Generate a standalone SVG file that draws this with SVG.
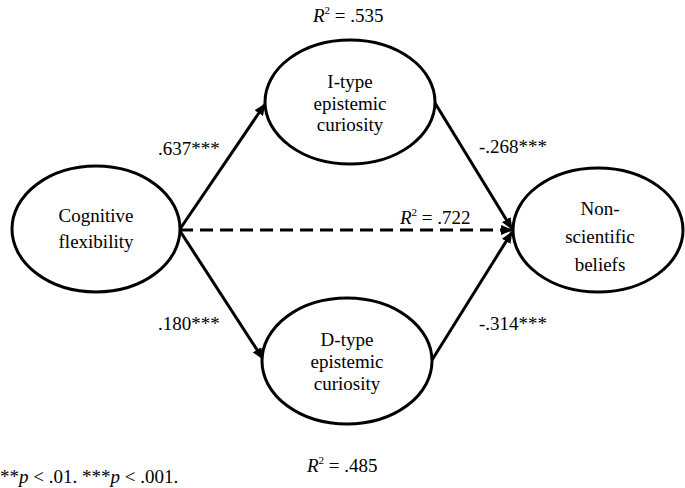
<svg xmlns="http://www.w3.org/2000/svg" width="685" height="488" viewBox="0 0 685 488">
<style>
text{font-family:"Liberation Serif",Tinos,"Times New Roman",serif;font-size:19px;fill:#000}
.c{text-anchor:middle}
.i{font-style:italic}
.node ellipse{fill:#fff;stroke:#000;stroke-width:3}
.ln{stroke:#000;stroke-width:3;fill:none}
.dash{stroke-dasharray:13 7}
</style>
<defs>
<marker id="ah" markerUnits="userSpaceOnUse" markerWidth="12" markerHeight="10" refX="11" refY="5" orient="auto">
<path d="M0,0 L12,5 L0,10 Z" fill="#000"/>
</marker>
</defs>
<g id="connectors">
<line class="ln" x1="180" y1="229" x2="265" y2="104" marker-end="url(#ah)"/>
<line class="ln" x1="180" y1="231" x2="263" y2="359" marker-end="url(#ah)"/>
<line class="ln" x1="435" y1="103" x2="512" y2="229" marker-end="url(#ah)"/>
<line class="ln" x1="432" y1="360" x2="512" y2="232" marker-end="url(#ah)"/>
<line class="ln dash" x1="180" y1="230" x2="512" y2="230" marker-end="url(#ah)"/>
</g>
<g id="cognitive" class="node" font-family="Liberation Serif, serif">
<ellipse cx="96" cy="229" rx="84" ry="63"/>
<text class="c" x="96" y="222">Cognitive</text>
<text class="c" x="96" y="248">flexibility</text>
</g>
<g id="itype" class="node">
<ellipse cx="350" cy="102" rx="85" ry="62"/>
<text class="c" x="350" y="88">I-type</text>
<text class="c" x="350" y="110">epistemic</text>
<text class="c" x="350" y="131">curiosity</text>
</g>
<g id="dtype" class="node">
<ellipse cx="347" cy="361" rx="85" ry="63"/>
<text class="c" x="347" y="346">D-type</text>
<text class="c" x="347" y="368">epistemic</text>
<text class="c" x="347" y="390">curiosity</text>
</g>
<g id="nonsci" class="node">
<ellipse cx="598" cy="230" rx="85" ry="62"/>
<text class="c" x="600" y="215">Non-</text>
<text class="c" x="600" y="243">scientific</text>
<text class="c" x="600" y="271">beliefs</text>
</g>
<g id="labels">
<text x="158" y="155">.637***</text>
<text x="158" y="330">.180***</text>
<text x="479" y="153">-.268***</text>
<text x="479" y="330">-.314***</text>
<text x="313" y="22"><tspan class="i">R</tspan><tspan dy="-8" font-size="11">2</tspan><tspan dy="8"> = .535</tspan></text>
<text x="400" y="224"><tspan class="i">R</tspan><tspan dy="-8" font-size="11">2</tspan><tspan dy="8"> = .722</tspan></text>
<text x="307" y="472"><tspan class="i">R</tspan><tspan dy="-8" font-size="11">2</tspan><tspan dy="8"> = .485</tspan></text>
<text x="0" y="483">**<tspan class="i">p</tspan> &lt; .01. ***<tspan class="i">p</tspan> &lt; .001.</text>
</g>
</svg>
